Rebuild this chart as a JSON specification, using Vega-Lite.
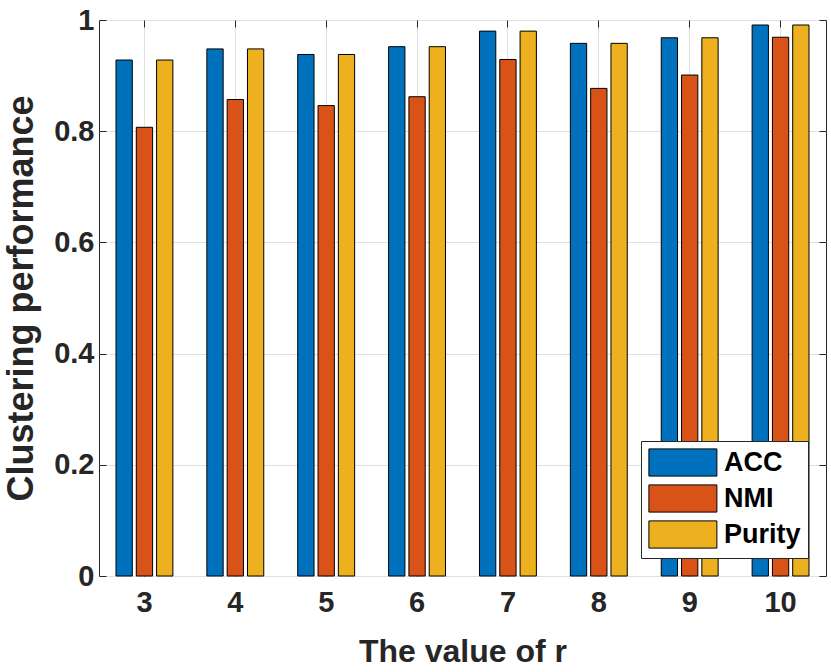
{
  "$schema": "https://vega.github.io/schema/vega-lite/v6.json",
  "width": 727,
  "height": 556,
  "autosize": {"type": "none"},
  "padding": {"left": 99, "top": 20, "right": 5, "bottom": 96},
  "background": "white",
  "config": {
    "font": "Liberation Sans",
    "view": {"stroke": "#262626", "strokeWidth": 1},
    "axis": {
      "domain": false,
      "tickColor": "#262626",
      "tickSize": -7,
      "tickWidth": 1,
      "gridColor": "#dfdfdf",
      "gridWidth": 1,
      "labelFont": "Liberation Sans",
      "labelFontSize": 29,
      "labelFontWeight": "bold",
      "labelColor": "#262626",
      "titleFont": "Liberation Sans",
      "titleFontWeight": "bold",
      "titleColor": "#262626"
    }
  },
  "data": {
    "values": [
      {"r": 3, "metric": "ACC", "value": 0.928},
      {"r": 3, "metric": "NMI", "value": 0.807},
      {"r": 3, "metric": "Purity", "value": 0.928},
      {"r": 4, "metric": "ACC", "value": 0.948},
      {"r": 4, "metric": "NMI", "value": 0.857},
      {"r": 4, "metric": "Purity", "value": 0.948},
      {"r": 5, "metric": "ACC", "value": 0.938},
      {"r": 5, "metric": "NMI", "value": 0.846},
      {"r": 5, "metric": "Purity", "value": 0.938},
      {"r": 6, "metric": "ACC", "value": 0.952},
      {"r": 6, "metric": "NMI", "value": 0.862},
      {"r": 6, "metric": "Purity", "value": 0.952},
      {"r": 7, "metric": "ACC", "value": 0.980},
      {"r": 7, "metric": "NMI", "value": 0.929},
      {"r": 7, "metric": "Purity", "value": 0.980},
      {"r": 8, "metric": "ACC", "value": 0.958},
      {"r": 8, "metric": "NMI", "value": 0.877},
      {"r": 8, "metric": "Purity", "value": 0.958},
      {"r": 9, "metric": "ACC", "value": 0.968},
      {"r": 9, "metric": "NMI", "value": 0.901},
      {"r": 9, "metric": "Purity", "value": 0.968},
      {"r": 10, "metric": "ACC", "value": 0.991},
      {"r": 10, "metric": "NMI", "value": 0.969},
      {"r": 10, "metric": "Purity", "value": 0.991}
    ]
  },
  "encoding": {
    "x": {
      "field": "r",
      "type": "ordinal",
      "scale": {"paddingInner": 0.374, "paddingOuter": 0.187}
    },
    "xOffset": {
      "field": "metric",
      "type": "nominal",
      "scale": {"paddingInner": 0.197, "paddingOuter": 0}
    },
    "y": {
      "field": "value",
      "type": "quantitative",
      "scale": {"domain": [0, 1], "nice": false}
    }
  },
  "layer": [
    {
      "mark": {"type": "bar", "stroke": "black", "strokeWidth": 1},
      "encoding": {
        "x": {
          "field": "r",
          "type": "ordinal",
          "axis": {
            "title": "The value of r",
            "titleFontSize": 32,
            "titlePadding": 19,
            "labelAngle": 0,
            "labelPadding": 19,
            "bandPosition": 0.5,
            "grid": true
          }
        },
        "y": {
          "field": "value",
          "type": "quantitative",
          "axis": {
            "title": "Clustering performance",
            "titleFontSize": 36,
            "titlePadding": 13,
            "values": [0, 0.2, 0.4, 0.6, 0.8, 1],
            "format": "~g",
            "labelPadding": 12,
            "grid": true
          }
        },
        "color": {
          "field": "metric",
          "type": "nominal",
          "scale": {"domain": ["ACC", "NMI", "Purity"], "range": ["#0072BD", "#D95319", "#EDB120"]},
          "legend": {
            "title": null,
            "orient": "bottom-right",
            "offset": 18,
            "padding": 7,
            "fillColor": "white",
            "strokeColor": "#262626",
            "cornerRadius": 0,
            "symbolType": "M-1,-1H4V1H-1Z",
            "symbolSize": 740,
            "symbolStrokeColor": "black",
            "symbolStrokeWidth": 1,
            "symbolOpacity": 1,
            "labelFont": "Liberation Sans",
            "labelFontSize": 27,
            "labelFontWeight": "bold",
            "labelColor": "black",
            "labelOffset": 47,
            "rowPadding": 3
          }
        }
      }
    },
    {
      "mark": {"type": "bar", "opacity": 0},
      "encoding": {
        "x": {
          "field": "r",
          "type": "ordinal",
          "axis": {"orient": "top", "title": null, "labels": false, "grid": false, "bandPosition": 0.5}
        },
        "y": {
          "field": "value",
          "type": "quantitative",
          "axis": {"orient": "right", "title": null, "labels": false, "grid": false, "values": [0, 0.2, 0.4, 0.6, 0.8, 1]}
        }
      }
    }
  ],
  "resolve": {"axis": {"x": "independent", "y": "independent"}}
}
